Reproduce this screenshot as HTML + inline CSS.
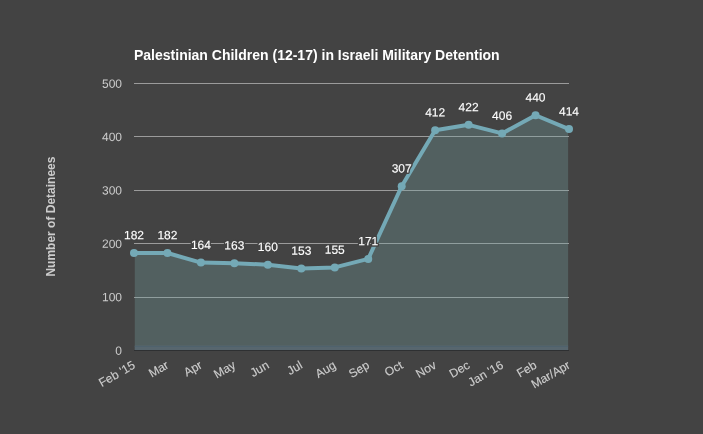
<!DOCTYPE html><html><head><meta charset="utf-8"><title>Chart</title><style>html,body{margin:0;padding:0;background:#434343;}body{width:703px;height:434px;overflow:hidden}</style></head><body><svg width="703" height="434" viewBox="0 0 703 434" style="display:block">
<rect x="0" y="0" width="703" height="434" fill="#434343"/>
<g font-family="'Liberation Sans', Arial, sans-serif">
<text x="134" y="60" font-size="14" font-weight="bold" fill="#ffffff">Palestinian Children (12-17) in Israeli Military Detention</text>
<rect x="134" y="297" width="435" height="1" fill="#9b9b9b"/>
<rect x="134" y="243" width="435" height="1" fill="#9b9b9b"/>
<rect x="134" y="190" width="435" height="1" fill="#9b9b9b"/>
<rect x="134" y="136" width="435" height="1" fill="#9b9b9b"/>
<rect x="134" y="83" width="435" height="1" fill="#9b9b9b"/>
<rect x="134" y="350" width="435" height="1" fill="#2e3032"/>
<clipPath id="ac"><rect x="134.8" y="80" width="433.3" height="270"/></clipPath>
<polygon clip-path="url(#ac)" points="134.00,350 134.00,253.01 167.46,253.01 200.92,262.62 234.38,263.16 267.85,264.76 301.31,268.50 334.77,267.43 368.23,258.89 401.69,186.26 435.15,130.19 468.62,124.85 502.08,133.40 535.54,115.24 569.00,129.12 569.00,350" fill="#78a7a4" fill-opacity="0.3"/>
<rect x="134.8" y="345.5" width="433.3" height="4.5" fill="#57666e"/>
<rect x="134.8" y="346" width="433.3" height="1" fill="#4f626d"/>
<polyline points="134.00,253.01 167.46,253.01 200.92,262.62 234.38,263.16 267.85,264.76 301.31,268.50 334.77,267.43 368.23,258.89 401.69,186.26 435.15,130.19 468.62,124.85 502.08,133.40 535.54,115.24 569.00,129.12" fill="none" stroke="#74a9b6" stroke-width="4" stroke-linejoin="round" stroke-linecap="round"/>
<circle cx="134.00" cy="253.01" r="4" fill="#74a9b6"/>
<circle cx="167.46" cy="253.01" r="4" fill="#74a9b6"/>
<circle cx="200.92" cy="262.62" r="4" fill="#74a9b6"/>
<circle cx="234.38" cy="263.16" r="4" fill="#74a9b6"/>
<circle cx="267.85" cy="264.76" r="4" fill="#74a9b6"/>
<circle cx="301.31" cy="268.50" r="4" fill="#74a9b6"/>
<circle cx="334.77" cy="267.43" r="4" fill="#74a9b6"/>
<circle cx="368.23" cy="258.89" r="4" fill="#74a9b6"/>
<circle cx="401.69" cy="186.26" r="4" fill="#74a9b6"/>
<circle cx="435.15" cy="130.19" r="4" fill="#74a9b6"/>
<circle cx="468.62" cy="124.85" r="4" fill="#74a9b6"/>
<circle cx="502.08" cy="133.40" r="4" fill="#74a9b6"/>
<circle cx="535.54" cy="115.24" r="4" fill="#74a9b6"/>
<circle cx="569.00" cy="129.12" r="4" fill="#74a9b6"/>
<text x="122" y="354.7" font-size="12" fill="#cccccc" text-anchor="end" transform="rotate(0.05 122 354.7)">0</text>
<text x="122" y="301.3" font-size="12" fill="#cccccc" text-anchor="end" transform="rotate(0.05 122 301.3)">100</text>
<text x="122" y="247.9" font-size="12" fill="#cccccc" text-anchor="end" transform="rotate(0.05 122 247.9)">200</text>
<text x="122" y="194.5" font-size="12" fill="#cccccc" text-anchor="end" transform="rotate(0.05 122 194.5)">300</text>
<text x="122" y="141.1" font-size="12" fill="#cccccc" text-anchor="end" transform="rotate(0.05 122 141.1)">400</text>
<text x="122" y="87.7" font-size="12" fill="#cccccc" text-anchor="end" transform="rotate(0.05 122 87.7)">500</text>
<text x="134.00" y="239.31" font-size="12" fill="none" stroke="#434343" stroke-width="3" stroke-linejoin="round" text-anchor="middle" transform="rotate(0.05 134.00 239.31)">182</text>
<text x="134.00" y="239.31" font-size="12" fill="#ffffff" stroke="#ffffff" stroke-width="0.12" text-anchor="middle" transform="rotate(0.05 134.00 239.31)">182</text>
<text x="167.46" y="239.31" font-size="12" fill="none" stroke="#434343" stroke-width="3" stroke-linejoin="round" text-anchor="middle" transform="rotate(0.05 167.46 239.31)">182</text>
<text x="167.46" y="239.31" font-size="12" fill="#ffffff" stroke="#ffffff" stroke-width="0.12" text-anchor="middle" transform="rotate(0.05 167.46 239.31)">182</text>
<text x="200.92" y="248.92" font-size="12" fill="none" stroke="#434343" stroke-width="3" stroke-linejoin="round" text-anchor="middle" transform="rotate(0.05 200.92 248.92)">164</text>
<text x="200.92" y="248.92" font-size="12" fill="#ffffff" stroke="#ffffff" stroke-width="0.12" text-anchor="middle" transform="rotate(0.05 200.92 248.92)">164</text>
<text x="234.38" y="249.46" font-size="12" fill="none" stroke="#434343" stroke-width="3" stroke-linejoin="round" text-anchor="middle" transform="rotate(0.05 234.38 249.46)">163</text>
<text x="234.38" y="249.46" font-size="12" fill="#ffffff" stroke="#ffffff" stroke-width="0.12" text-anchor="middle" transform="rotate(0.05 234.38 249.46)">163</text>
<text x="267.85" y="251.06" font-size="12" fill="none" stroke="#434343" stroke-width="3" stroke-linejoin="round" text-anchor="middle" transform="rotate(0.05 267.85 251.06)">160</text>
<text x="267.85" y="251.06" font-size="12" fill="#ffffff" stroke="#ffffff" stroke-width="0.12" text-anchor="middle" transform="rotate(0.05 267.85 251.06)">160</text>
<text x="301.31" y="254.80" font-size="12" fill="none" stroke="#434343" stroke-width="3" stroke-linejoin="round" text-anchor="middle" transform="rotate(0.05 301.31 254.80)">153</text>
<text x="301.31" y="254.80" font-size="12" fill="#ffffff" stroke="#ffffff" stroke-width="0.12" text-anchor="middle" transform="rotate(0.05 301.31 254.80)">153</text>
<text x="334.77" y="253.73" font-size="12" fill="none" stroke="#434343" stroke-width="3" stroke-linejoin="round" text-anchor="middle" transform="rotate(0.05 334.77 253.73)">155</text>
<text x="334.77" y="253.73" font-size="12" fill="#ffffff" stroke="#ffffff" stroke-width="0.12" text-anchor="middle" transform="rotate(0.05 334.77 253.73)">155</text>
<text x="368.23" y="245.19" font-size="12" fill="none" stroke="#434343" stroke-width="3" stroke-linejoin="round" text-anchor="middle" transform="rotate(0.05 368.23 245.19)">171</text>
<text x="368.23" y="245.19" font-size="12" fill="#ffffff" stroke="#ffffff" stroke-width="0.12" text-anchor="middle" transform="rotate(0.05 368.23 245.19)">171</text>
<text x="401.69" y="172.56" font-size="12" fill="none" stroke="#434343" stroke-width="3" stroke-linejoin="round" text-anchor="middle" transform="rotate(0.05 401.69 172.56)">307</text>
<text x="401.69" y="172.56" font-size="12" fill="#ffffff" stroke="#ffffff" stroke-width="0.12" text-anchor="middle" transform="rotate(0.05 401.69 172.56)">307</text>
<text x="435.15" y="116.49" font-size="12" fill="none" stroke="#434343" stroke-width="3" stroke-linejoin="round" text-anchor="middle" transform="rotate(0.05 435.15 116.49)">412</text>
<text x="435.15" y="116.49" font-size="12" fill="#ffffff" stroke="#ffffff" stroke-width="0.12" text-anchor="middle" transform="rotate(0.05 435.15 116.49)">412</text>
<text x="468.62" y="111.15" font-size="12" fill="none" stroke="#434343" stroke-width="3" stroke-linejoin="round" text-anchor="middle" transform="rotate(0.05 468.62 111.15)">422</text>
<text x="468.62" y="111.15" font-size="12" fill="#ffffff" stroke="#ffffff" stroke-width="0.12" text-anchor="middle" transform="rotate(0.05 468.62 111.15)">422</text>
<text x="502.08" y="119.70" font-size="12" fill="none" stroke="#434343" stroke-width="3" stroke-linejoin="round" text-anchor="middle" transform="rotate(0.05 502.08 119.70)">406</text>
<text x="502.08" y="119.70" font-size="12" fill="#ffffff" stroke="#ffffff" stroke-width="0.12" text-anchor="middle" transform="rotate(0.05 502.08 119.70)">406</text>
<text x="535.54" y="101.54" font-size="12" fill="none" stroke="#434343" stroke-width="3" stroke-linejoin="round" text-anchor="middle" transform="rotate(0.05 535.54 101.54)">440</text>
<text x="535.54" y="101.54" font-size="12" fill="#ffffff" stroke="#ffffff" stroke-width="0.12" text-anchor="middle" transform="rotate(0.05 535.54 101.54)">440</text>
<text x="569.00" y="115.42" font-size="12" fill="none" stroke="#434343" stroke-width="3" stroke-linejoin="round" text-anchor="middle" transform="rotate(0.05 569.00 115.42)">414</text>
<text x="569.00" y="115.42" font-size="12" fill="#ffffff" stroke="#ffffff" stroke-width="0.12" text-anchor="middle" transform="rotate(0.05 569.00 115.42)">414</text>
<text x="136.10" y="367.5" font-size="12" fill="#cccccc" stroke="#cccccc" stroke-width="0.15" text-anchor="end" transform="rotate(-30 136.10 367.5)">Feb '15</text>
<text x="169.56" y="367.5" font-size="12" fill="#cccccc" stroke="#cccccc" stroke-width="0.15" text-anchor="end" transform="rotate(-30 169.56 367.5)">Mar</text>
<text x="203.02" y="367.5" font-size="12" fill="#cccccc" stroke="#cccccc" stroke-width="0.15" text-anchor="end" transform="rotate(-30 203.02 367.5)">Apr</text>
<text x="236.48" y="367.5" font-size="12" fill="#cccccc" stroke="#cccccc" stroke-width="0.15" text-anchor="end" transform="rotate(-30 236.48 367.5)">May</text>
<text x="269.95" y="367.5" font-size="12" fill="#cccccc" stroke="#cccccc" stroke-width="0.15" text-anchor="end" transform="rotate(-30 269.95 367.5)">Jun</text>
<text x="303.41" y="367.5" font-size="12" fill="#cccccc" stroke="#cccccc" stroke-width="0.15" text-anchor="end" transform="rotate(-30 303.41 367.5)">Jul</text>
<text x="336.87" y="367.5" font-size="12" fill="#cccccc" stroke="#cccccc" stroke-width="0.15" text-anchor="end" transform="rotate(-30 336.87 367.5)">Aug</text>
<text x="370.33" y="367.5" font-size="12" fill="#cccccc" stroke="#cccccc" stroke-width="0.15" text-anchor="end" transform="rotate(-30 370.33 367.5)">Sep</text>
<text x="403.79" y="367.5" font-size="12" fill="#cccccc" stroke="#cccccc" stroke-width="0.15" text-anchor="end" transform="rotate(-30 403.79 367.5)">Oct</text>
<text x="437.25" y="367.5" font-size="12" fill="#cccccc" stroke="#cccccc" stroke-width="0.15" text-anchor="end" transform="rotate(-30 437.25 367.5)">Nov</text>
<text x="470.72" y="367.5" font-size="12" fill="#cccccc" stroke="#cccccc" stroke-width="0.15" text-anchor="end" transform="rotate(-30 470.72 367.5)">Dec</text>
<text x="504.18" y="367.5" font-size="12" fill="#cccccc" stroke="#cccccc" stroke-width="0.15" text-anchor="end" transform="rotate(-30 504.18 367.5)">Jan '16</text>
<text x="537.64" y="367.5" font-size="12" fill="#cccccc" stroke="#cccccc" stroke-width="0.15" text-anchor="end" transform="rotate(-30 537.64 367.5)">Feb</text>
<text x="571.10" y="367.5" font-size="12" fill="#cccccc" stroke="#cccccc" stroke-width="0.15" text-anchor="end" transform="rotate(-30 571.10 367.5)">Mar/Apr</text>
<text x="55.3" y="216.6" font-size="12" font-weight="bold" fill="#cccccc" text-anchor="middle" transform="rotate(-90 55.3 216.6)">Number of Detainees</text>
</g></svg></body></html>
